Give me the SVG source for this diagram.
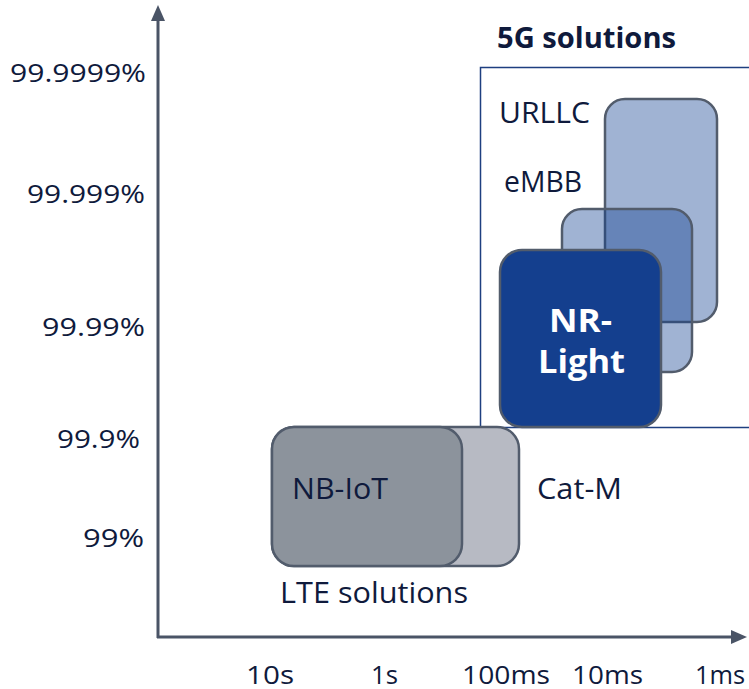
<svg xmlns="http://www.w3.org/2000/svg" width="749" height="689" viewBox="0 0 749 689">
<style>
text{font-family:"Open Sans","Noto Sans","Liberation Sans",sans-serif;fill:#0f1a3c}
.ax{font-size:26px}
.lbl{font-size:30px}
.box{stroke:#525c6c;stroke-width:2.5}
</style>
<rect width="749" height="689" fill="#ffffff"/>
<g id="axes">
<line x1="158" y1="18" x2="158" y2="638" stroke="#4a5466" stroke-width="3"/>
<polygon points="158,5 151,21 165,21" fill="#4a5466"/>
<line x1="157" y1="637" x2="734" y2="637" stroke="#4a5466" stroke-width="3"/>
<polygon points="747,637 731,630 731,644" fill="#4a5466"/>
</g>
<g id="ylabels">
<text class="ax" x="10" y="82" textLength="136" lengthAdjust="spacingAndGlyphs">99.9999%</text>
<text class="ax" x="27" y="203" textLength="118" lengthAdjust="spacingAndGlyphs">99.999%</text>
<text class="ax" x="42" y="336" textLength="103" lengthAdjust="spacingAndGlyphs">99.99%</text>
<text class="ax" x="57" y="448" textLength="83" lengthAdjust="spacingAndGlyphs">99.9%</text>
<text class="ax" x="83" y="547" textLength="61" lengthAdjust="spacingAndGlyphs">99%</text>
</g>
<g id="xlabels">
<text class="ax" x="246" y="684" textLength="48" lengthAdjust="spacingAndGlyphs">10s</text>
<text class="ax" x="371" y="684" textLength="27" lengthAdjust="spacingAndGlyphs">1s</text>
<text class="ax" x="462" y="684" textLength="88" lengthAdjust="spacingAndGlyphs">100ms</text>
<text class="ax" x="572" y="684" textLength="71" lengthAdjust="spacingAndGlyphs">10ms</text>
<text class="ax" x="695" y="684" textLength="50" lengthAdjust="spacingAndGlyphs">1ms</text>
</g>
<g id="g5">
<rect x="480.5" y="67.5" width="280" height="360" fill="none" stroke="#1e3f80" stroke-width="1.5"/>
<text x="497" y="48" font-size="28" font-weight="bold" textLength="179" lengthAdjust="spacingAndGlyphs">5G solutions</text>
</g>
<g id="urllc">
<rect class="box" x="605" y="99" width="112" height="223" rx="20" fill="#a0b3d3"/>
<text class="lbl" x="499" y="123" textLength="91" lengthAdjust="spacingAndGlyphs">URLLC</text>
</g>
<g id="embb">
<rect class="box" x="562" y="209" width="130" height="163" rx="20" fill="#0b3c8e" fill-opacity="0.39"/>
<text class="lbl" x="504" y="192" textLength="78" lengthAdjust="spacingAndGlyphs">eMBB</text>
</g>
<g id="nrlight">
<rect class="box" x="500" y="250" width="161" height="177" rx="22" fill="#143f8e"/>
<text x="549" y="332" font-size="33" font-weight="bold" textLength="63" lengthAdjust="spacingAndGlyphs" style="fill:#ffffff">NR-</text>
<text x="538" y="373" font-size="33" font-weight="bold" textLength="87" lengthAdjust="spacingAndGlyphs" style="fill:#ffffff">Light</text>
</g>
<g id="catm">
<rect class="box" x="272" y="427" width="247" height="139" rx="22" fill="#b7bac3"/>
<text class="lbl" x="537" y="499" textLength="85" lengthAdjust="spacingAndGlyphs">Cat-M</text>
</g>
<g id="nbiot">
<rect class="box" x="272" y="427" width="190" height="139" rx="22" fill="#8c939c"/>
<text class="lbl" x="292" y="499" textLength="96" lengthAdjust="spacingAndGlyphs">NB-IoT</text>
</g>
<g id="lte">
<text class="lbl" x="280" y="603" textLength="188" lengthAdjust="spacingAndGlyphs">LTE solutions</text>
</g>
</svg>
